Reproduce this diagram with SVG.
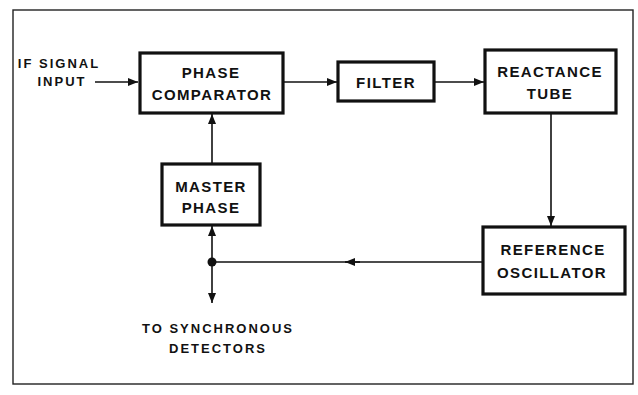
<svg xmlns="http://www.w3.org/2000/svg" width="638" height="395" viewBox="0 0 638 395">
<style>
.box{fill:#fff;stroke:#111;stroke-width:3.2}
.t{font-family:"Liberation Sans",Arial,sans-serif;font-weight:bold;font-size:15px;letter-spacing:1.4px;fill:#111;text-anchor:middle}
.s{font-size:13px;letter-spacing:2px}
.ln{stroke:#111;stroke-width:1.6;fill:none}
</style>
<defs>
<marker id="ah" viewBox="0 0 10 8" refX="10" refY="4" markerWidth="10" markerHeight="8" markerUnits="userSpaceOnUse" orient="auto">
<path d="M0,0 L10,4 L0,8 Z" fill="#111"/>
</marker>
</defs>
<rect x="0" y="0" width="638" height="395" fill="#fff"/>
<rect x="13" y="10" width="620" height="374" fill="none" stroke="#222" stroke-width="1.4"/>
<g id="connectors">
<line class="ln" x1="95" y1="82" x2="138" y2="82" marker-end="url(#ah)"/>
<line class="ln" x1="283" y1="82" x2="337" y2="82" marker-end="url(#ah)"/>
<line class="ln" x1="434" y1="82" x2="484" y2="82" marker-end="url(#ah)"/>
<line class="ln" x1="551" y1="113" x2="551" y2="226" marker-end="url(#ah)"/>
<line class="ln" x1="483" y1="262" x2="212" y2="262"/>
<line class="ln" x1="360" y1="262" x2="345" y2="262" marker-end="url(#ah)"/>
<line class="ln" x1="212" y1="262" x2="212" y2="226" marker-end="url(#ah)"/>
<line class="ln" x1="212" y1="164" x2="212" y2="114" marker-end="url(#ah)"/>
<line class="ln" x1="212" y1="262" x2="212" y2="303" marker-end="url(#ah)"/>
<circle cx="212" cy="262" r="4.5" fill="#111"/>
</g>
<g id="if-input">
<text class="t s" x="59" y="68">IF SIGNAL</text>
<text class="t s" x="62" y="86">INPUT</text>
</g>
<g id="phase-comparator">
<rect class="box" x="140" y="53" width="143" height="60"/>
<text class="t" x="211" y="78">PHASE</text>
<text class="t" x="212" y="100">COMPARATOR</text>
</g>
<g id="filter">
<rect class="box" x="338" y="62" width="96" height="39"/>
<text class="t" x="386" y="88">FILTER</text>
</g>
<g id="reactance-tube">
<rect class="box" x="485" y="50" width="131" height="63"/>
<text class="t" x="550" y="77">REACTANCE</text>
<text class="t" x="550" y="99">TUBE</text>
</g>
<g id="master-phase">
<rect class="box" x="162" y="164" width="98" height="61"/>
<text class="t" x="211" y="192">MASTER</text>
<text class="t" x="211" y="213">PHASE</text>
</g>
<g id="reference-oscillator">
<rect class="box" x="483" y="227" width="142" height="67"/>
<text class="t" x="553" y="255">REFERENCE</text>
<text class="t" x="552" y="278">OSCILLATOR</text>
</g>
<g id="detectors">
<text class="t s" x="218" y="333">TO SYNCHRONOUS</text>
<text class="t s" x="218" y="353">DETECTORS</text>
</g>
</svg>
